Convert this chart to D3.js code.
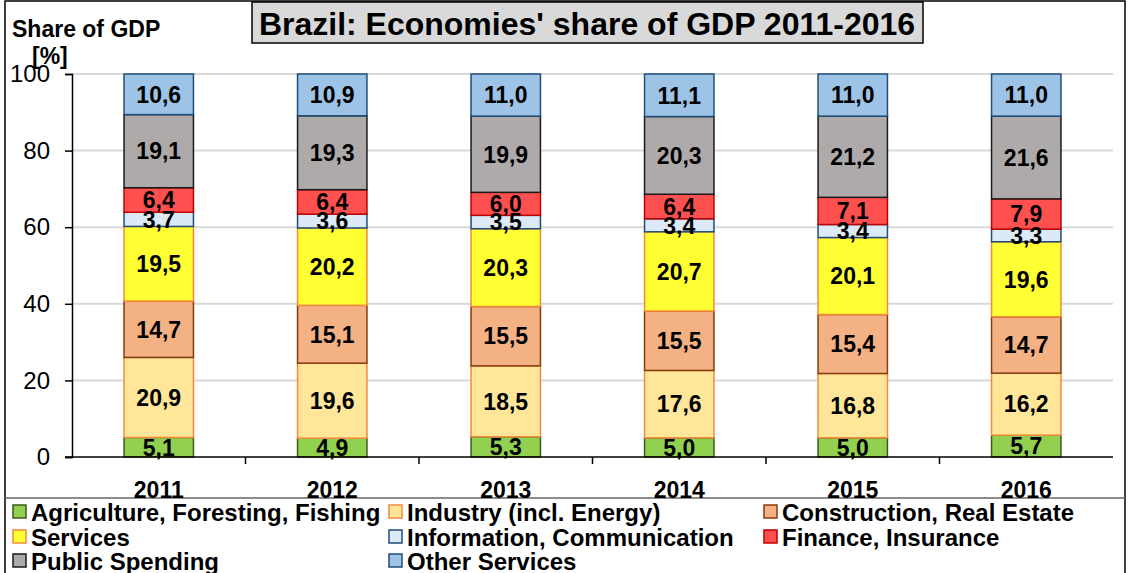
<!DOCTYPE html>
<html>
<head>
<meta charset="utf-8">
<script src="https://cdn.jsdelivr.net/npm/d3@7"></script>
<style>
  body { margin: 0; background: #fff; }
  svg { display: block; font-family: "Liberation Sans", Arial, sans-serif; }
</style>
</head>
<body>
<svg id="chart" width="1131" height="573"></svg>
<script>
const years = ["2011", "2012", "2013", "2014", "2015", "2016"];
const sectors = ["Agriculture, Foresting, Fishing", "Industry (incl. Energy)", "Construction, Real Estate",
  "Services", "Information, Communication", "Finance, Insurance", "Public Spending", "Other Services"];
const agriculture = [5.1, 4.9, 5.3, 5.0, 5.0, 5.7];
const industry = [20.9, 19.6, 18.5, 17.6, 16.8, 16.2];
const construction = [14.7, 15.1, 15.5, 15.5, 15.4, 14.7];
const services = [19.5, 20.2, 20.3, 20.7, 20.1, 19.6];
const information = [3.7, 3.6, 3.5, 3.4, 3.4, 3.3];
const finance = [6.4, 6.4, 6.0, 6.4, 7.1, 7.9];
const publicSpending = [19.1, 19.3, 19.9, 20.3, 21.2, 21.6];
const otherServices = [10.6, 10.9, 11.0, 11.1, 11.0, 11.0];
const yTicks = [0, 20, 40, 60, 80, 100];

const fills = ["#92d050", "#ffe699", "#f4b183", "#ffff33", "#dce9f6", "#ff5050", "#aeaaaa", "#9dc3e6"];
const strokes = ["#3a5a1e", "#f58a3a", "#843c0c", "#f58a3a", "#1f4e79", "#c00000", "#1a1a1a", "#1f4e79"];

const series = [agriculture, industry, construction, services, information, finance, publicSpending, otherServices];
const table = years.map((y, i) => {
  let row = { year: y };
  sectors.forEach((s, k) => row[s] = series[k][i]);
  return row;
});
const stacked = d3.stack().keys(sectors)(table);

const svg = d3.select("#chart");
const margin = { left: 72, right: 1113, top: 74, bottom: 457 };

// outer frame
svg.append("rect").attr("x", 5).attr("y", 1).attr("width", 1120).attr("height", 580)
  .attr("fill", "none").attr("stroke", "#000").attr("stroke-width", 1.5);
svg.append("line").attr("x1", 5).attr("x2", 1125).attr("y1", 498).attr("y2", 498)
  .attr("stroke", "#666").attr("stroke-width", 1.5);

const x = d3.scaleBand().domain(years).range([margin.left, margin.right]).paddingInner(0.6).paddingOuter(0.3);
const xOuter = d3.scaleBand().domain(years).range([margin.left, margin.right]);
const y = d3.scaleLinear().domain([0, 100]).range([margin.bottom, margin.top]);

// gridlines
svg.append("g").selectAll("line").data(yTicks.filter(d => d > 0)).enter().append("line")
  .attr("x1", margin.left).attr("x2", margin.right)
  .attr("y1", d => y(d)).attr("y2", d => y(d))
  .attr("stroke", "#d9d9d9").attr("stroke-width", 2);

// y axis
const yAxis = svg.append("g").attr("transform", `translate(${margin.left},0)`)
  .call(d3.axisLeft(y).tickValues(yTicks).tickSize(7).tickPadding(15));
yAxis.select(".domain").attr("stroke", "#000").attr("stroke-width", 1.5);
yAxis.selectAll(".tick line").attr("stroke", "#000").attr("stroke-width", 1.5);
yAxis.selectAll(".tick text").attr("font-size", 24).attr("fill", "#000")
  .attr("font-family", "Liberation Sans, Arial, sans-serif");

// bars
const groups = svg.append("g").selectAll("g").data(stacked).enter().append("g")
  .attr("fill", (d, k) => fills[k]).attr("stroke", (d, k) => strokes[k]);
groups.selectAll("rect").data(d => d).enter().append("rect")
  .attr("x", d => x(d.data.year))
  .attr("width", x.bandwidth())
  .attr("y", d => y(d[1]))
  .attr("height", d => y(d[0]) - y(d[1]))
  .attr("stroke-width", 1.5);

// x axis
const xAxisG = svg.append("g").attr("transform", `translate(0,${margin.bottom})`);
xAxisG.append("line").attr("x1", margin.left - 7).attr("x2", margin.right)
  .attr("stroke", "#000").attr("stroke-width", 1.5);
xAxisG.selectAll(".xt").data(years.slice(1)).enter().append("line")
  .attr("x1", d => xOuter(d)).attr("x2", d => xOuter(d)).attr("y1", 0).attr("y2", 7)
  .attr("stroke", "#000").attr("stroke-width", 1.5);
xAxisG.selectAll("text").data(years).enter().append("text")
  .attr("x", d => x(d) + x.bandwidth() / 2).attr("y", 41)
  .attr("text-anchor", "middle").attr("font-size", 23).attr("font-weight", "bold").text(d => d);

// value labels
stacked.forEach(layer => {
  svg.append("g").selectAll("text").data(layer).enter().append("text")
    .attr("x", d => x(d.data.year) + x.bandwidth() / 2)
    .attr("y", d => y((d[0] + d[1]) / 2))
    .attr("dy", "0.36em")
    .attr("text-anchor", "middle").attr("font-size", 23).attr("font-weight", "bold")
    .text(d => d3.format(".1f")(d[1] - d[0]).replace(".", ","));
});

// title
svg.append("rect").attr("x", 252).attr("y", 2).attr("width", 671).attr("height", 41)
  .attr("fill", "#d9d9d9").attr("stroke", "#000").attr("stroke-width", 1.5);
svg.append("text").attr("x", 587).attr("y", 35).attr("text-anchor", "middle")
  .attr("font-size", 32).attr("font-weight", "bold").text("Brazil: Economies' share of GDP 2011-2016");

// y label
svg.append("text").attr("x", 12).attr("y", 37).attr("font-size", 23).attr("font-weight", "bold").text("Share of GDP");
svg.append("text").attr("x", 32).attr("y", 64).attr("font-size", 23).attr("font-weight", "bold").text("[%]");

// legend
const legCols = [12, 388, 763];
const legRows = [512, 537, 561];
const legend = svg.append("g").selectAll("g").data(sectors).enter().append("g")
  .attr("transform", (d, k) => `translate(${legCols[k % 3]},${legRows[Math.floor(k / 3)]})`);
legend.append("rect").attr("x", 1).attr("y", -7).attr("width", 13).attr("height", 13)
  .attr("fill", (d, k) => fills[k]).attr("stroke", (d, k) => strokes[k]).attr("stroke-width", 1.5);
legend.append("text").attr("x", 19).attr("y", 0).attr("dy", "0.36em")
  .attr("font-size", 24).attr("font-weight", "bold").text(d => d);
</script>
</body>
</html>
